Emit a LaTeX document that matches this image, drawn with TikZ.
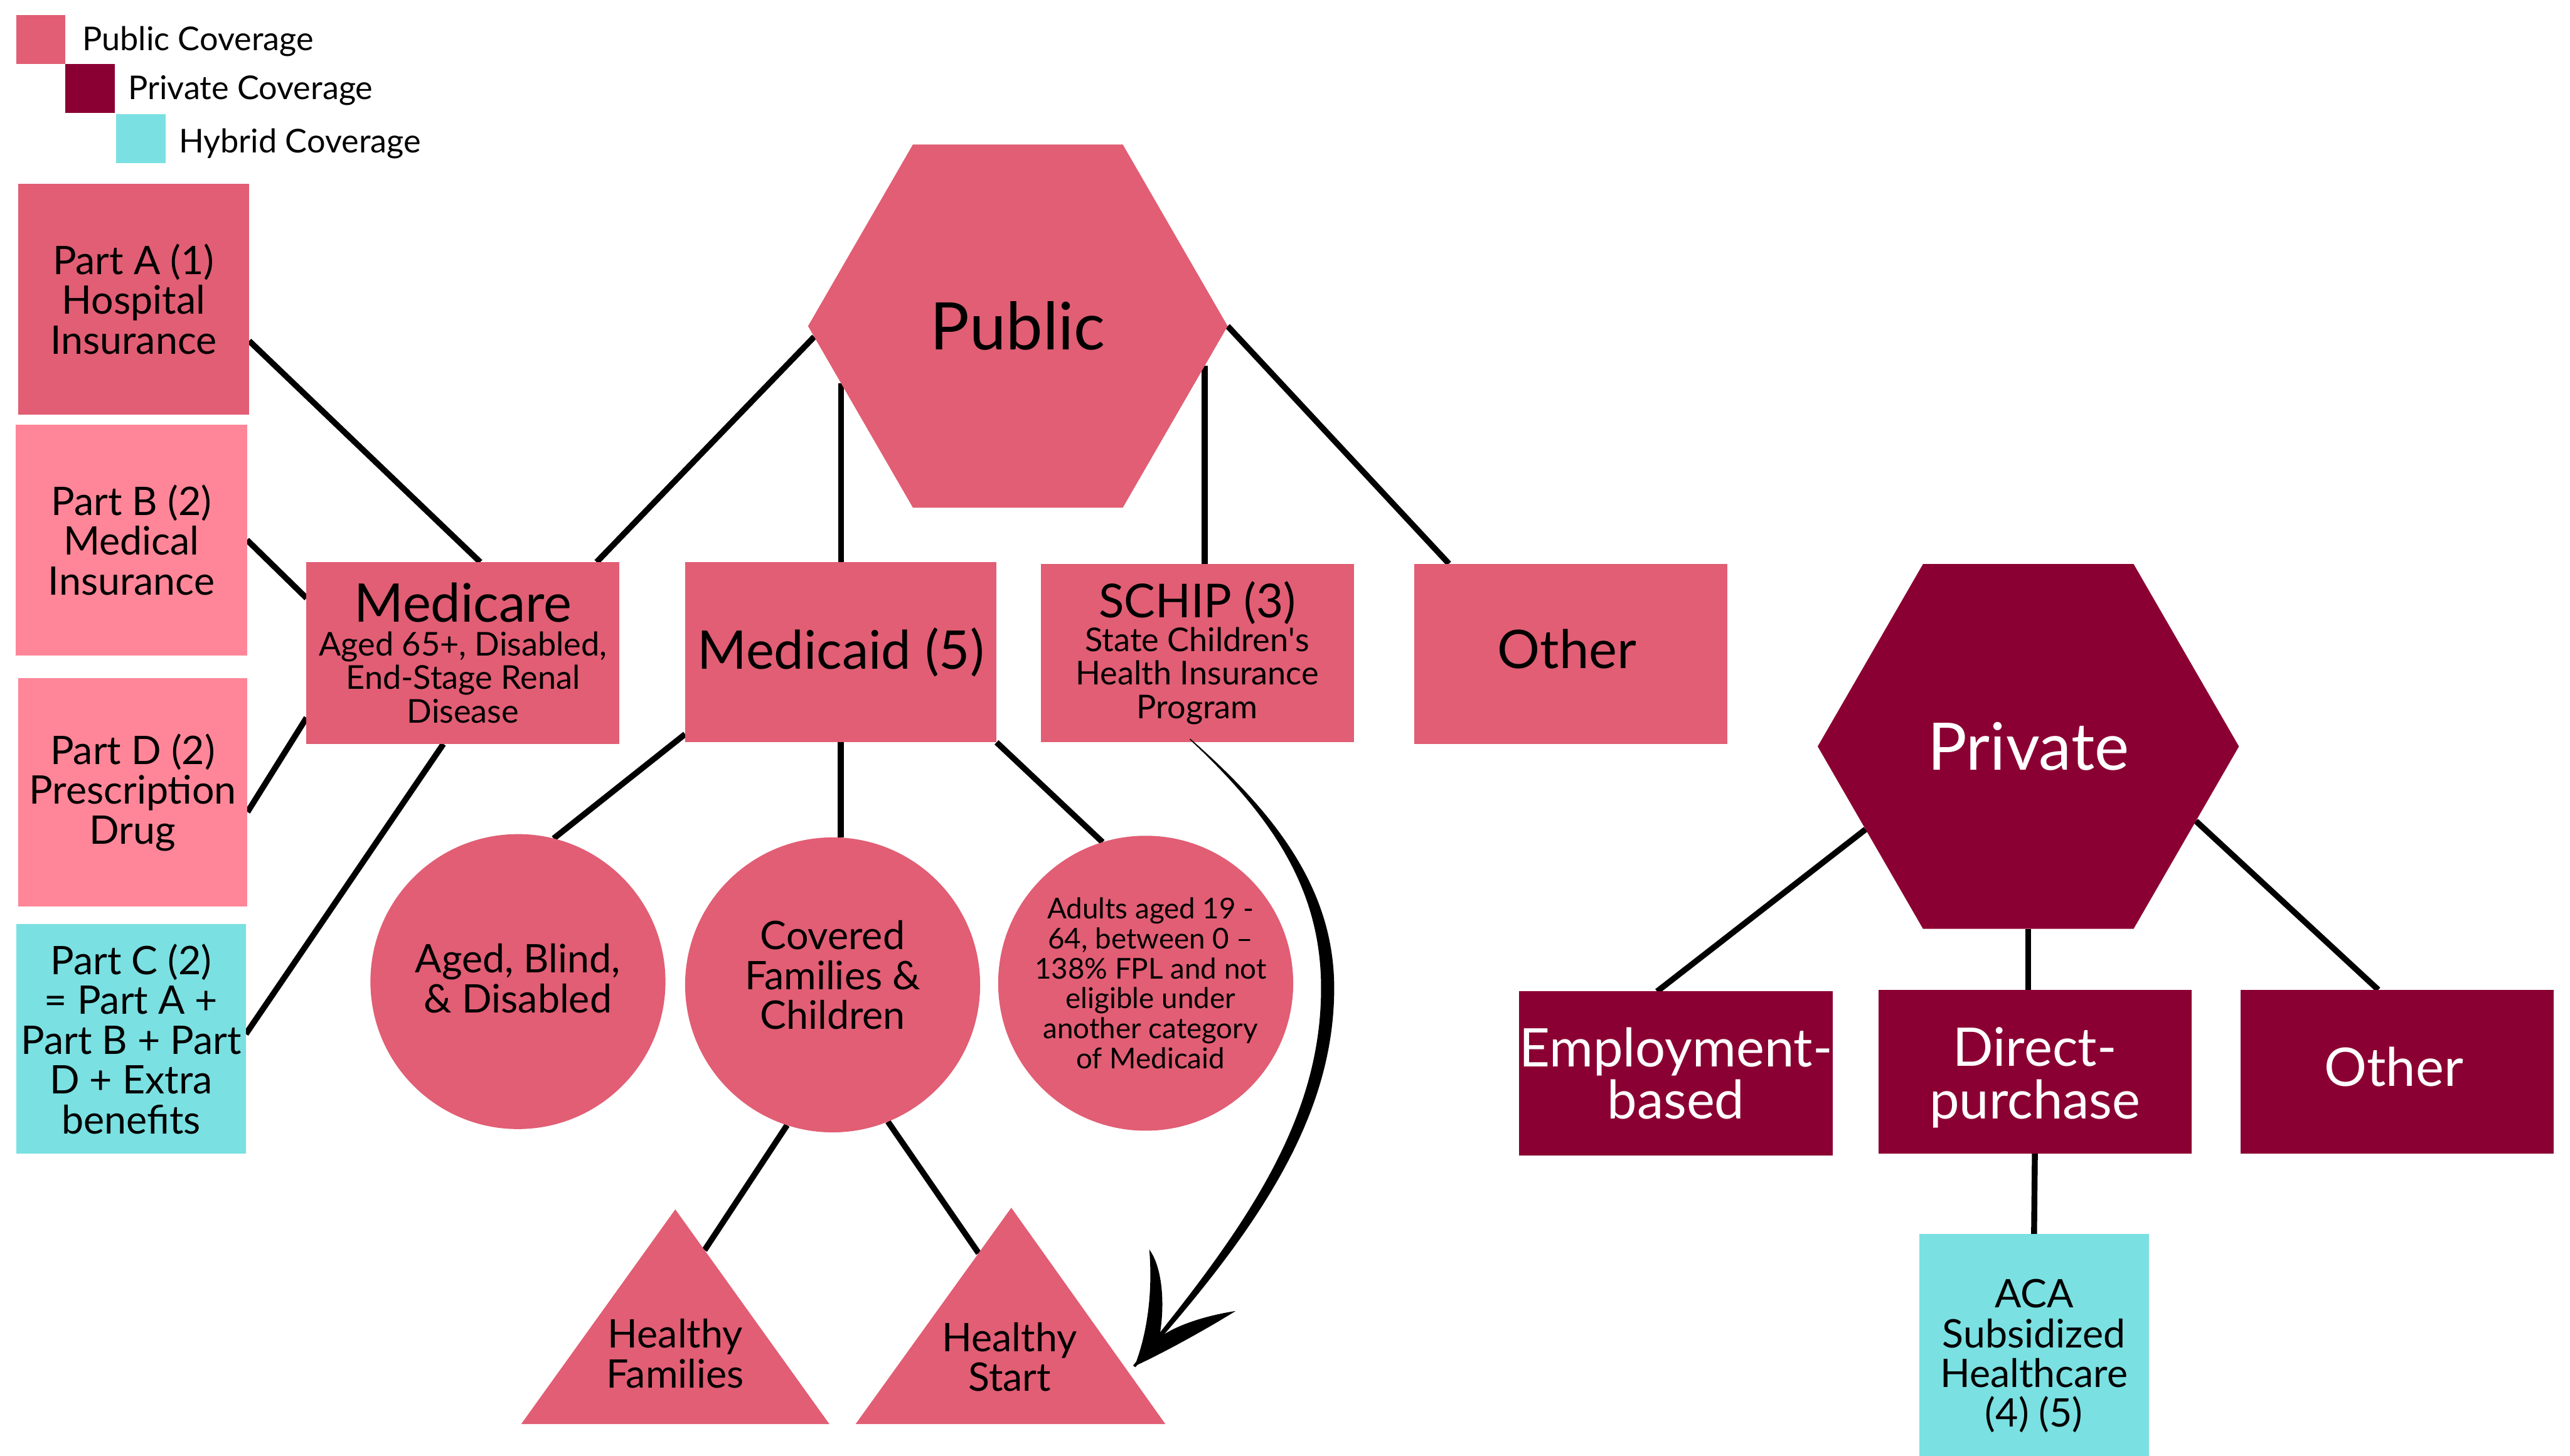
\documentclass[tikz,border=0pt]{standalone}
\usepackage{fontspec}
\setmainfont{Lato}
\usetikzlibrary{shapes.geometric,calc,backgrounds}

\definecolor{pubfill}{RGB}{225,94,116}
\definecolor{partfill}{RGB}{255,134,152}
\definecolor{privfill}{RGB}{139,0,50}
\definecolor{hybfill}{RGB}{122,224,226}

\newcommand\legfont{\fontsize{20}{22}\selectfont}
\newcommand\partfont{\fontsize{24}{24.3}\selectfont}
\newcommand\bigfont{\fontsize{32.5}{32}\selectfont}
\newcommand\subfont{\fontsize{20}{20.5}\selectfont}
\newcommand\hexfont{\fontsize{40}{40}\selectfont}
\newcommand\tinyfont{\fontsize{17.5}{18.3}\selectfont}

\begin{document}
\begin{tikzpicture}[x=1pt,y=-1pt,
  sqbox/.style={rectangle,inner sep=0pt,outer sep=0pt,align=center},
  legsq/.style={rectangle,inner sep=0pt,outer sep=0pt,minimum size=30pt},
  legtxt/.style={inner sep=0pt,anchor=base west,font=\legfont},
  hexa/.style={regular polygon,regular polygon sides=6,inner sep=0pt,outer sep=0pt},
  circ/.style={circle,inner sep=0pt,outer sep=0pt,minimum size=180pt,fill=pubfill},
  conn/.style={line width=3.6pt,black},
  lbl/.style={inner sep=0pt,align=center},
  ttext/.style={lbl,font=\partfont}
]
\useasboundingbox (0,0) rectangle (1568,888.5);

% legend
\node[legsq,fill=pubfill]  (lg1) at (25,24) {};
\node[legsq,fill=privfill] (lg2) at (55,54) {};
\node[legsq,fill=hybfill]  (lg3) at (86,84.5) {};
\node[legtxt] (lt1) at (50,31) {Public Coverage};
\node[legtxt] (lt2) at (78,60.8) {Private Coverage};
\node[legtxt] (lt3) at (109,93.3) {Hybrid Coverage};

% Medicare parts
\node[sqbox,fill=pubfill,minimum width=141pt,minimum height=141pt,font=\partfont] (pa) at (81.5,182.5) {Part A (1)\\Hospital\\Insurance};
\node[sqbox,fill=partfill,minimum width=141pt,minimum height=141pt,font=\partfont] (pb) at (80.2,329.5) {Part B (2)\\Medical\\Insurance};
\node[sqbox,fill=partfill,minimum width=140pt,minimum height=139pt,font=\partfont] (pd) at (81,483.5) {Part D (2)\\Prescription\\Drug};
\node[sqbox,fill=hybfill,minimum width=140pt,minimum height=140pt,font=\partfont] (pc) at (80,634) {Part C (2)\\= Part A +\\Part B + Part\\D + Extra\\benefits};

% public branch
\node[hexa,fill=pubfill,minimum size=256pt,font=\hexfont] (pub) at (621,199) {Public};
\node[sqbox,fill=pubfill,minimum width=191pt,minimum height=111pt,font=\subfont] (mcare) at (282.5,398.5) {{\bigfont Medicare}\\Aged 65+, Disabled,\\End-Stage Renal\\Disease};
\node[sqbox,fill=pubfill,minimum width=190pt,minimum height=110pt,font=\bigfont] (mcd) at (513,398) {Medicaid (5)};
\node[sqbox,fill=pubfill,minimum width=191pt,minimum height=109pt,font=\subfont] (schip) at (730.5,398.5) {{\fontsize{28.5}{29}\selectfont SCHIP (3)}\\State Children\textquotesingle s\\Health Insurance\\Program};
\node[sqbox,fill=pubfill,minimum width=191pt,minimum height=110pt] (oth1) at (958.5,399) {};
\node[lbl,font=\bigfont] (oth1t) at (956,396) {Other};

% Medicaid groups
\node[circ] (c1) at (316,599) {};
\node[ttext] (c1t) at (316,597) {Aged, Blind,\\\& Disabled};
\node[circ] (c2) at (508,601) {};
\node[ttext] (c2t) at (508,595) {Covered\\Families \&\\Children};
\node[circ] (c3) at (699,600) {};
\node[lbl,font=\tinyfont] (c3t) at (702,600) {Adults aged 19 -\\64, between 0 –\\138\% FPL and not\\eligible under\\another category\\of Medicaid};

% child programs
\fill[pubfill] (412,738) coordinate (hfT) -- (506,869) coordinate (hfR) -- (318,869) coordinate (hfL) -- cycle;
\node[ttext] (hf) at (412,826) {Healthy\\Families};
\fill[pubfill] (617,737) coordinate (hsT) -- (711,869) coordinate (hsR) -- (522,869) coordinate (hsL) -- cycle;
\node[ttext] (hs) at (616,828) {Healthy\\Start};

% private branch
\node[hexa,fill=privfill,minimum size=257pt,font=\hexfont,text=white] (prv) at (1237.5,455.5) {Private};
\node[sqbox,fill=privfill,minimum width=191pt,minimum height=100pt,font=\bigfont,text=white] (emp) at (1022.5,655) {Employment-\\based};
\node[sqbox,fill=privfill,minimum width=191pt,minimum height=100pt] (dp) at (1241.5,654) {};
\node[lbl,font=\bigfont,text=white] (dpt) at (1241.5,657.5) {Direct-\\purchase};
\node[sqbox,fill=privfill,minimum width=191pt,minimum height=100pt] (oth2) at (1462.5,654) {};
\node[lbl,font=\bigfont,text=white] (oth2t) at (1460.5,651) {Other};
\node[sqbox,fill=hybfill,minimum width=140pt,minimum height=149pt,font=\partfont] (aca) at (1241,827.5) {ACA\\Subsidized\\Healthcare\\(4) (5)};

% connectors
\begin{scope}[on background layer]
\draw[conn] ($(pa.east)+(0,25.5)$) -- ($(mcare.north)+(10.5,0)$);
\draw[conn] (pb.east) -- ($(mcare.west)+(0,-33.5)$);
\draw[conn] ($(pd.east)+(0,12)$) -- ($(mcare.west)+(0,39.5)$);
\draw[conn] ($(pc.east)+(0,-3)$) -- ($(mcare.south)+(-12,0)$);
\draw[conn] (pub.183) -- ($(mcare.north)+(81.5,0)$);
\draw[conn] (pub.198) -- (pub.198 |- mcd.north);
\draw[conn] (pub.348) -- (pub.348 |- schip.north);
\draw[conn] (pub.0) -- ($(oth1.north)+(-74.5,0)$);
\draw[conn] ($(mcd.south west)+(0,-5)$) -- (c1.76);
\draw[conn] (mcd.south) -- (mcd.south |- c2.north);
\draw[conn] (mcd.south east) -- (c3.107);
\draw[conn] (c2.252) -- ($(hfT)!0.19!(hfR)$);
\draw[conn] (c2.292) -- ($(hsT)!0.21!(hsL)$);
\draw[conn] (prv.207) -- ($(emp.north)+(-11.5,0)$);
\draw[conn] (prv.south) -- (prv.south |- dp.north);
\draw[conn] (prv.336) -- ($(oth2.north)+(-11.5,0)$);
\draw[conn] (dp.south) -- (aca.north);
\end{scope}

% brush arrow from SCHIP to Healthy Start: tapered stroke and two curved barbs
\fill[black] (726.2,450.8) .. controls (778.8,496.8) and (814,543) .. (814,603)
  .. controls (814,683) and (765.9,752.5) .. (692.7,834.3)
  -- (691.3,833.3) .. controls (761.1,748.3) and (806,683) .. (806,603)
  .. controls (806,543) and (776.8,499.0) .. (725.8,451.2) -- cycle;
\fill[black] (692.2,833.7) .. controls (699.5,815) and (703.5,790) .. (701.2,762.5)
  .. controls (709,773) and (711,795) .. (707.5,815) -- cycle;
\fill[black] (692.2,833.7) .. controls (712,824.5) and (737,810.5) .. (753.9,800)
  .. controls (738,802.5) and (720,807.5) .. (708.6,815.3) -- cycle;
\end{tikzpicture}
\end{document}
